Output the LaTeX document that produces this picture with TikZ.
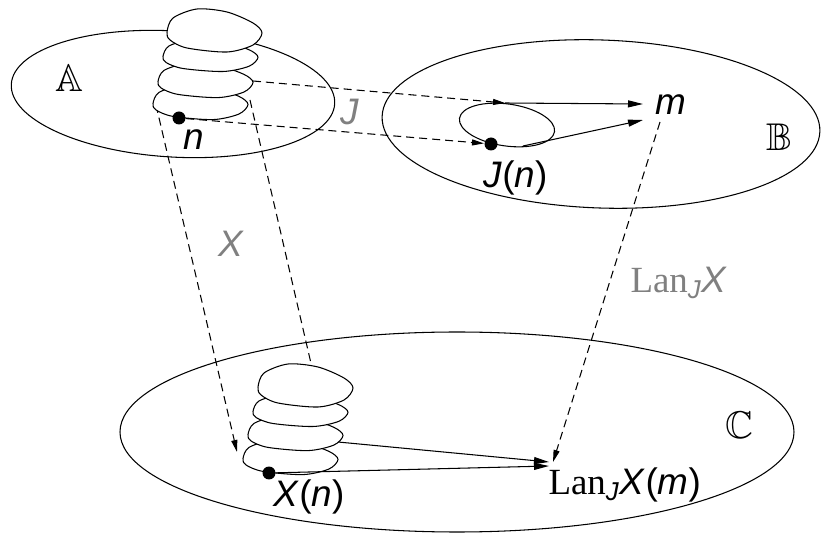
\documentclass[tikz,border=0pt]{standalone}
\usepackage{fontspec}
\usepackage{amssymb}
\setmainfont{Liberation Sans}
\newfontfamily\lanfont{Liberation Serif}
\usetikzlibrary{arrows.meta}

\tikzset{
  blob/.pic={\draw[fill=white, yscale=#1] plot[smooth cycle] coordinates
    {(-47,2) (-41,-12) (-17,-21) (13,-18) (39,-7) (48,3) (39,15) (13,22) (-27,18) (-44,10)};}
}

\begin{document}
\begin{tikzpicture}[x=0.02cm, y=-0.02cm, line width=0.6pt,
    lbl/.style={font=\fontsize{21}{24}\selectfont, inner sep=0pt, anchor=base west},
    glbl/.style={lbl, text=black!50},
    cat/.style={font=\fontsize{22}{26}\selectfont, inner sep=0pt},
    dot/.style={circle, fill=black, inner sep=0pt, minimum size=0.26cm},
    dsh/.style={dash pattern=on 1.6mm off 1mm},
    arr/.style={-{Triangle[length=3mm,width=1.4mm]}},
    darr/.style={dsh, -{Triangle[length=2.4mm,width=1.2mm]}}]
  \useasboundingbox (0,0) rectangle (822,540);

  % the three categories
  \draw[rotate around={-3.5:(173,94)}] (173,94) ellipse [x radius=162, y radius=63];
  \draw[rotate around={-2:(601,124)}] (601,124) ellipse [x radius=219, y radius=84];
  \draw (457,432) ellipse [x radius=337, y radius=100];
  \node[cat] (catA) at (69,78) {$\mathbb{A}$};
  \node[cat] (catB) at (779,137) {$\mathbb{B}$};
  \node[cat] (catC) at (739,425) {$\mathbb{C}$};

  % loose ends of the connectors
  \coordinate (a3) at (253,81);
  \coordinate (aL) at (156,105);
  \coordinate (aR) at (250,100);
  \coordinate (btop) at (505,103);
  \coordinate (bbot) at (523,146);
  \coordinate (mA) at (643,104);
  \coordinate (mB) at (643,120);
  \coordinate (mdown) at (660,122);
  \coordinate (cL) at (237,452);
  \coordinate (cR) at (313,372);
  \coordinate (c3) at (338,442);
  \coordinate (lanA) at (549,462);
  \coordinate (lanB) at (549,466);
  \coordinate (lanC) at (553,462);

  % X sends the stack down to C
  \draw[darr] (aL) -- (cL);
  \draw[dsh] (aR) -- (cR);

  % stack over n in A
  \pic at (200,102) {blob=0.8};
  \pic at (205,80) {blob=0.8};
  \pic at (210,55) {blob=0.75};
  \pic at (214,30) {blob=1};

  % stack over X(n) in C
  \pic at (290,457) {blob=0.8};
  \pic at (295,433) {blob=0.8};
  \pic at (300,410) {blob=0.75};
  \pic at (305,385) {blob=1};

  % loop round J(n) in B
  \draw[rotate around={-8:(507,125)}] (507,125) ellipse [x radius=48, y radius=21];

  \node[dot] (n) at (179,118) {};
  \node[dot] (Jn) at (491,144) {};
  \node[dot] (Xn) at (269,473) {};

  % J from A to B
  \draw[darr] (a3) -- (btop);
  \draw[darr] (n) -- (Jn);
  \draw[arr] (btop) -- (mA);
  \draw[arr] (bbot) -- (mB);

  % Lan_J X from B to C
  \draw[darr] (mdown) -- (lanC);
  \draw[arr] (c3) -- (lanA);
  \draw[arr] (Xn) -- (lanB);

  % labels
  \node[lbl] (nlbl) at (183,150) {\textit{n}};
  \node[lbl] (mlbl) at (655,115) {\textit{m}};
  \node[lbl] (Jnlbl) at (483,188) {\textit{J}(\textit{n})};
  \node[lbl] (Xnlbl) at (273,507) {\textit{X}(\textit{n})};
  \node[lbl] (lanm) at (548,495) {{\lanfont Lan}\textsubscript{\textit{J}}\textit{X}(\textit{m})};
  \node[glbl] (Jlbl) at (340,125) {\textit{J}};
  \node[glbl] (Xlbl) at (218,257) {\textit{X}};
  \node[glbl] (lanX) at (630,293) {{\lanfont Lan}\textsubscript{\textit{J}}\textit{X}};
\end{tikzpicture}
\end{document}
